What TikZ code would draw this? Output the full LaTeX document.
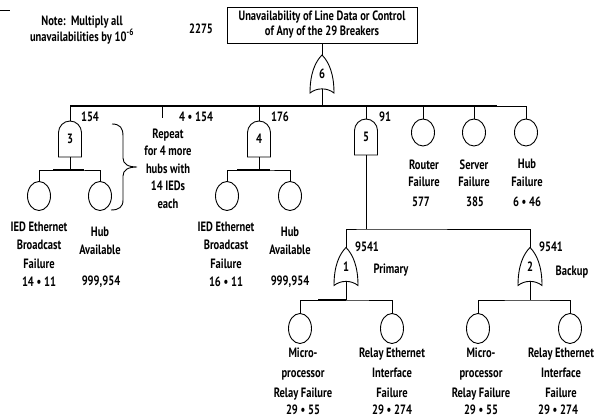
\documentclass[tikz,border=0pt]{standalone}
\usepackage{fontspec}
\setmainfont{PT Sans}[FakeStretch=0.78]
\usetikzlibrary{shapes.geometric}

% gate outlines drawn around an invisible, named box
\newcommand\andgate[1]{\draw[shift={(#1.center)}]
  (-11.5,18) -- (-11.5,-6.5) .. controls (-11.5,-12.7) and (-6.3,-18) .. (0,-18)
  .. controls (6.3,-18) and (11.5,-12.7) .. (11.5,-6.5) -- (11.5,18) -- cycle;}
\newcommand\orgate[1]{\draw[shift={(#1.center)}]
  (-12,19) .. controls (-12,0) and (-7,-12) .. (0,-19)
  .. controls (7,-12) and (12,0) .. (12,19)
  .. controls (5,13.5) and (-5,13.5) .. cycle;}

\begin{document}
\begin{tikzpicture}[x=1pt,y=-1pt,line width=0.9pt,
  lbl/.style={font=\fontsize{13.5}{17.5}\selectfont\bfseries,inner sep=0,align=center},
  ev/.style={draw,ellipse,minimum width=23pt,minimum height=29pt,inner sep=0},
  andbox/.style={minimum width=23pt,minimum height=36pt,inner sep=0,
    font=\fontsize{13.5}{16}\selectfont\bfseries},
  orbox/.style={minimum width=24pt,minimum height=38pt,inner sep=0,
    font=\fontsize{13.5}{16}\selectfont\bfseries},
  heavy/.style={line width=1.8pt}]
\useasboundingbox (0,0) rectangle (608,419);

% corner mark and note
\draw (0,10) -- (10,10);
\node[lbl,anchor=north,font=\fontsize{13.5}{16}\selectfont\bfseries] (note) at (82,15)
  {Note:\ \ Multiply all\\unavailabilities by 10\textsuperscript{-6}};

% top event
\node[draw,lbl,minimum width=190pt,minimum height=36pt,
  font=\fontsize{13.5}{15}\selectfont\bfseries] (top) at (322,25)
  {Unavailability of Line Data or Control\\of Any of the 29 Breakers};
\node[lbl] (v2275) at (201,29) {2275};

% gates
\node[orbox] (g6) at (322,74) {6};
\node[andbox] (g3) at (70,139) {3};
\node[andbox] (g4) at (259,139) {4};
\node[andbox] (g5) at (366,137) {5};
\node[orbox,minimum height=37pt] (g1) at (346,266.5) {1};
\node[orbox,minimum height=37pt] (g2) at (530,266.5) {2};
\orgate{g6}\andgate{g3}\andgate{g4}\andgate{g5}\orgate{g1}\orgate{g2}

% basic events
\node[ev] (c3a) at (39,196) {};
\node[ev] (c3b) at (100,196) {};
\node[ev] (c4a) at (227,196) {};
\node[ev] (c4b) at (290,196) {};
\node[ev,minimum height=27pt] (rf) at (423,132.5) {};
\node[ev,minimum height=27pt] (sf) at (474,132.5) {};
\node[ev,minimum height=27pt] (hf) at (526,132.5) {};
\node[ev,minimum height=30pt] (m1) at (300,328.5) {};
\node[ev,minimum height=30pt] (e1) at (392,328.5) {};
\node[ev,minimum height=30pt] (m2) at (478,328.5) {};
\node[ev,minimum height=30pt] (e2) at (570,328.5) {};

% junction points
\coordinate (bus) at (322,106);
\coordinate (tick) at (162,118);
\coordinate (b3) at (70,170);
\coordinate (b4) at (259,170);
\coordinate (b5) at (366,229);
\coordinate (b1) at (346,300);
\coordinate (b2) at (530,300);
\coordinate (g6in) at ([yshift=4.2pt]g6.south);
\coordinate (g1in) at ([yshift=4pt]g1.south);
\coordinate (g2in) at ([yshift=4pt]g2.south);

% connectors
\draw (top.south) -- (g6.north);
\draw (g6in) -- (bus);
\draw (g3.north) |- (bus) -| (hf.north);
\draw[heavy] (g3.north |- bus) -- ([xshift=23pt]sf.north |- bus);
\draw (tick) -- (tick |- bus);
\draw (g4.north) -- (g4.north |- bus);
\draw (g5.north) -- (g5.north |- bus);
\draw (rf.north) -- (rf.north |- bus);
\draw (sf.north) -- (sf.north |- bus);

\draw (g3.south) -- (b3);
\draw (c3a.north) |- (b3) -| (c3b.north);
\draw[heavy] ([xshift=-17pt]b3) -- ([xshift=14pt]b3);
\draw (g4.south) -- (b4);
\draw (c4a.north) |- (b4) -| (c4b.north);
\draw[heavy] ([xshift=-22pt]b4) -- ([xshift=11pt]b4);

\draw (g5.south) -- (b5);
\draw (g1.north) |- (b5) -| (g2.north);
\draw (g1in) -- (b1);
\draw (m1.north) |- (b1) -| (e1.north);
\draw[heavy] ([xshift=-28pt]b1) -- (b1);
\draw (g2in) -- (b2);
\draw (m2.north) |- (b2) -| (e2.north);

% brace beside the first hub
\draw (112,124) .. controls (120,124) and (123,128) .. (123,136) -- (123,158)
  .. controls (123,164) and (128,167) .. (137,167)
  .. controls (128,167) and (123,170) .. (123,176) -- (123,200)
  .. controls (123,207) and (119,210) .. (111,210);

% values and labels
\node[lbl] (v154) at (90,117) {154};
\node[lbl] (v4x154) at (196,117) {4 • 154};
\node[lbl] (v176) at (280,117) {176};
\node[lbl] (v91) at (385,117) {91};
\node[lbl,anchor=north] (rep) at (168,128) {Repeat\\for 4 more\\hubs with\\14 IEDs\\each};

\node[lbl,anchor=north,font=\fontsize{13.5}{18.5}\selectfont\bfseries] (t3a) at (39,221)
  {IED Ethernet\\Broadcast\\Failure};
\node[lbl] (v3a) at (39,282) {14 • 11};
\node[lbl,anchor=north] (t3b) at (100,227) {Hub\\Available};
\node[lbl] (v3b) at (101,282) {999,954};
\node[lbl,anchor=north,font=\fontsize{13.5}{18.5}\selectfont\bfseries] (t4a) at (226,221)
  {IED Ethernet\\Broadcast\\Failure};
\node[lbl] (v4a) at (226,282) {16 • 11};
\node[lbl,anchor=north] (t4b) at (290,227) {Hub\\Available};
\node[lbl] (v4b) at (290,282) {999,954};

\node[lbl,anchor=north] (trf) at (424,159) {Router\\Failure};
\node[lbl] (vrf) at (421,202) {577};
\node[lbl,anchor=north] (tsf) at (474,159) {Server\\Failure};
\node[lbl] (vsf) at (475,202) {385};
\node[lbl,anchor=north] (thf) at (527,159) {Hub\\Failure};
\node[lbl] (vhf) at (527,202) {6 • 46};

\node[lbl] (v9541a) at (367,247) {9541};
\node[lbl] (prim) at (391,270) {Primary};
\node[lbl] (v9541b) at (551,247) {9541};
\node[lbl] (back) at (572,272) {Backup};

\node[lbl,anchor=north,font=\fontsize{13.5}{20}\selectfont\bfseries] (tm1) at (303,347)
  {Micro-\\processor\\Relay Failure};
\node[lbl] (vm1) at (303,409.5) {29 • 55};
\node[lbl,anchor=north,font=\fontsize{13.5}{20}\selectfont\bfseries] (te1) at (392,347)
  {Relay Ethernet\\Interface\\Failure};
\node[lbl] (ve1) at (392,409.5) {29 • 274};
\node[lbl,anchor=north,font=\fontsize{13.5}{20}\selectfont\bfseries] (tm2) at (481,347)
  {Micro-\\processor\\Relay Failure};
\node[lbl] (vm2) at (481,409.5) {29 • 55};
\node[lbl,anchor=north,font=\fontsize{13.5}{20}\selectfont\bfseries] (te2) at (561,347)
  {Relay Ethernet\\Interface\\Failure};
\node[lbl] (ve2) at (558,409.5) {29 • 274};
\end{tikzpicture}
\end{document}
